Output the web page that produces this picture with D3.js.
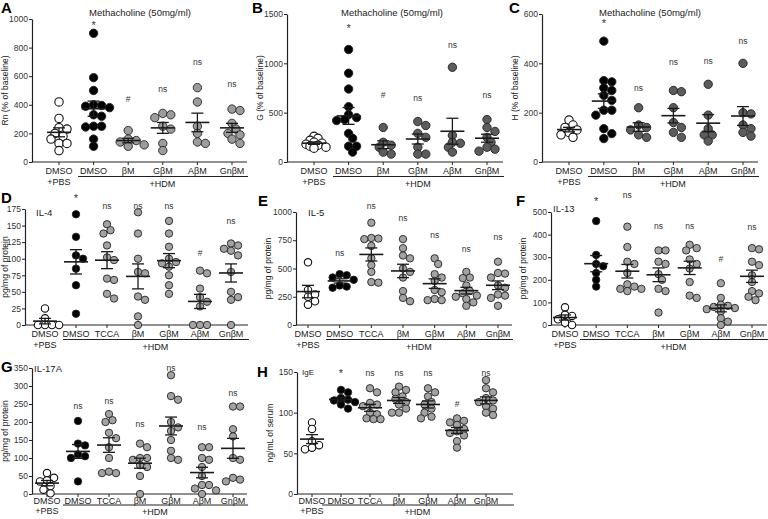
<!DOCTYPE html>
<html><head><meta charset="utf-8">
<script src="https://cdn.jsdelivr.net/npm/d3@7"></script>
<style>
html,body{margin:0;padding:0;background:#fff;}
svg{font-family:"Liberation Sans",Arial,Helvetica,sans-serif;}
</style></head>
<body><svg id="c" width="768" height="519"></svg>
<script>
// ---------- DATA ----------
const catsMch = ["DMSO","DMSO","βM","GβM","AβM","GnβM"];
const catsCyt = ["DMSO","DMSO","TCCA","βM","GβM","AβM","GnβM"];
const titleMch = "Methacholine (50mg/ml)";

const rnTicks = [0,200,400,600,800,1000];
const rnValues = [
  [420,305,240,230,200,180,160,130,130,80],
  [900,590,500,400,395,390,380,330,320,250,250,245,160,110],
  [220,160,150,140,120,110],
  [340,330,310,250,230,130,80],
  [520,420,250,200,140,130],
  [370,360,270,230,200,190,160,130]
];
const rnSig = ["","*","#","ns","ns","ns"];
const rnSigAt = [null,975,437,507,690,537];

const gTicks = [0,500,1000,1500];
const gValues = [
  [260,240,220,200,190,180,170,160,150,140],
  [1140,900,740,560,480,450,430,420,290,240,160,160,100],
  [350,200,170,150,100,80],
  [410,370,290,250,150,80,80],
  [960,270,200,190,150,100],
  [430,350,310,250,200,150,130,110]
];
const gSig = ["","*","#","ns","ns","ns"];
const gSigAt = [null,1388,667,643,1178,670];

const hTicks = [0,200,400,600];
const hValues = [
  [170,150,140,130,120,110,100],
  [490,330,325,300,290,270,250,210,210,190,135,115,95],
  [220,150,140,130,110,100],
  [290,285,220,160,140,120,100],
  [315,190,135,110,110,85],
  [400,200,195,150,135,120,105]
];
const hSig = ["","*","ns","ns","ns","ns"];
const hSigAt = [null,573,298,400,406,485];

const il4Ticks = [0,25,50,75,100,125,150,175];
const il4Values = [
  [25,10,0,0,0,0],
  [167,133,105,100,85,60,17],
  [152,143,138,120,102,98,70,68,47,40],
  [170,138,100,80,78,43,38,13,0],
  [157,138,118,100,95,93,88,75,60,47],
  [82,78,55,42,35,28,0,0,0],
  [123,120,115,112,105,80,50,42,38,0]
];
const il4Sig = ["","*","ns","ns","ns","#","ns"];
const il4SigAt = [null,195,178,178,178,108,155];

const il5Ticks = [0,250,500,750,1000];
const il5Values = [
  [555,310,270,250,210,180],
  [450,440,420,400,350,340,330],
  [905,770,765,760,700,590,530,470,380,375],
  [760,680,615,590,500,470,420,300,240,210],
  [590,540,450,420,390,310,290,230,220,220],
  [470,420,415,350,300,280,260,250,230,200,170],
  [560,460,455,420,350,330,270,260,240,170]
];
const il5Sig = ["","ns","ns","ns","ns","ns","ns"];
const il5SigAt = [null,627,1041,940,793,666,769];

const il13Ticks = [0,100,200,300,400,500];
const il13Values = [
  [78,45,40,25,10,0],
  [460,310,270,260,230,200,170],
  [435,345,280,270,230,180,170,160,160,150],
  [330,330,280,270,225,200,160,150,55],
  [355,340,330,290,270,250,190,130,120],
  [185,120,90,85,80,75,70,60,30,15,0],
  [340,335,280,265,220,190,150,140,125,110]
];
const il13Sig = ["","*","ns","ns","ns","#","ns"];
const il13SigAt = [null,558,573,432,432,288,429];

const il17Ticks = [0,50,100,150,200,250,300,350];
const il17Values = [
  [58,45,38,35,22,12,2],
  [203,140,135,110,105,100,35],
  [222,205,200,170,155,130,100,62,58,58],
  [140,130,100,100,95,80,75,50,0],
  [330,272,262,200,185,175,150,120,100,95],
  [130,130,100,95,75,50,25,25,15,10,0],
  [243,243,180,160,100,95,45,40,35]
];
const il17Sig = ["","ns","ns","ns","ns","ns","ns"];
const il17SigAt = [null,243,257,192,347,183,278];

const igeTicks = [0,50,100,150];
const igeValues = [
  [88,80,65,60,57,55],
  [128,125,118,116,115,113,110,105],
  [130,125,112,110,108,100,98,93,92,92],
  [132,128,125,120,117,113,110,105,100,100],
  [130,125,120,113,110,105,100,95,93],
  [93,90,88,85,80,77,75,72,65,57],
  [140,130,125,118,115,113,108,105,100,97]
];
const igeSig = ["","*","ns","ns","ns","#","ns"];
const igeSigAt = [null,152,148,148,148,110,148];

// ---------- PANELS (layout) ----------
const grayLight = "#a3a3a3", grayMid = "#9c9c9c", grayDark = "#5c5c5c";
const rowTop = {lab:12, under:14.5, pbs:23, hdm:25};
const rowBot = {lab:10, under:11, pbs:20, hdm:21};
const panels = [
 {letter:"A", lx:1, ly:13, vals:rnValues, cats:catsMch, ticks:rnTicks, ylab:"Rn (% of baseline)", title:titleMch, tx:140,
  sig:rnSig, sigAt:rnSigAt, gray:grayMid, ax:32, yT:19, yB:162, x0:59, x1:232, xE:247, h0:78, r:4.2, ov:[1.6,1.6], row:rowTop, ylx:-27},
 {letter:"B", lx:252, ly:13, vals:gValues, cats:catsMch, ticks:gTicks, ylab:"G (% of baseline)", title:titleMch, tx:392,
  sig:gSig, sigAt:gSigAt, gray:grayDark, ax:287, yT:14, yB:162, x0:314, x1:487, xE:503, h0:333, r:4.2, ov:[1.05,1.45], row:rowTop, ylx:-27},
 {letter:"C", lx:509, ly:13, vals:hValues, cats:catsMch, ticks:hTicks, ylab:"H (% of baseline)", title:titleMch, tx:650,
  sig:hSig, sigAt:hSigAt, gray:grayDark, ax:542, yT:14, yB:162, x0:569, x1:743, xE:758, h0:588, r:4.2, ov:[1.3,1.6], row:rowTop, ylx:-27},
 {letter:"D", lx:1, ly:203, vals:il4Values, cats:catsCyt, ticks:il4Ticks, ylab:"pg/mg of protein", sub:"IL-4", sx:36, sy:216,
  sig:il4Sig, sigAt:il4SigAt, gray:grayLight, ax:25, yT:209, yB:325, x0:45, x1:231, xE:248, h0:63, r:3.7, ov:[1.75,1.75], row:rowTop, ylx:-20},
 {letter:"E", lx:258, ly:206, vals:il5Values, cats:catsCyt, ticks:il5Ticks, ylab:"pg/mg of protein", sub:"IL-5", sx:308, sy:216,
  sig:il5Sig, sigAt:il5SigAt, gray:grayLight, ax:296, yT:212, yB:325, x0:308, x1:498, xE:512, h0:326, r:3.7, ov:[1.75,1.75], row:rowTop, ylx:-28},
 {letter:"F", lx:516, ly:206, vals:il13Values, cats:catsCyt, ticks:il13Ticks, ylab:"pg/mg of protein", sub:"IL-13", sx:553, sy:212,
  sig:il13Sig, sigAt:il13SigAt, gray:grayLight, ax:551, yT:212, yB:325, x0:565, x1:752, xE:767, h0:580, r:3.7, ov:[1.75,1.75], row:rowTop, ylx:-28},
 {letter:"G", lx:1, ly:372, vals:il17Values, cats:catsCyt, ticks:il17Ticks, ylab:"pg/mg of protein", sub:"IL-17A", sx:34, sy:372,
  sig:il17Sig, sigAt:il17SigAt, gray:grayLight, ax:32, yT:368, yB:494, x0:47, x1:233, xE:247, h0:63, r:3.7, ov:[1.75,1.75], row:rowBot, ylx:-27},
 {letter:"H", lx:257, ly:377, vals:igeValues, cats:catsCyt, ticks:igeTicks, ylab:"ng/mL of serum", sub:"IgE", sx:302, sy:375, subSize:8,
  sig:igeSig, sigAt:igeSigAt, gray:grayLight, ax:297, yT:372, yB:494, x0:312, x1:486, xE:513, h0:322, r:3.7, ov:[1.6,1.6], row:rowBot, ylx:-27}
];

const svg = d3.select("#c");
const ink = "#222";

function swarm(vals, y, r, ov){
  // deterministic beeswarm offsets
  const order = vals.map((v,i)=>({v,i})).sort((a,b)=>b.v-a.v);
  const placed = [];
  const out = new Array(vals.length);
  const step = r*0.95, minD = ov*r;
  for (const p of order){
    const py = y(p.v);
    let dx = 0;
    for (let k=0;k<40;k++){
      const cand = k===0?0:(k%2===1? step*Math.ceil(k/2) : -step*Math.ceil(k/2));
      const ok = placed.every(q => Math.hypot(q.x-cand, q.y-py) >= minD);
      if (ok){ dx = cand; break; }
    }
    placed.push({x:dx,y:py});
    out[p.i] = dx;
  }
  return out;
}

panels.forEach(P => {
  const g = svg.append("g");
  const yMax = d3.max(P.ticks);
  const y = d3.scaleLinear().domain([0,yMax]).range([P.yB,P.yT]);
  const x = d3.scalePoint().domain(d3.range(P.cats.length)).range([P.x0,P.x1]);

  // letter
  g.append("text").attr("x",P.lx).attr("y",P.ly).attr("font-size",15).attr("font-weight","bold")
   .attr("font-family","Liberation Sans, Arial, sans-serif").text(P.letter);
  if (P.title) g.append("text").attr("x",P.tx).attr("y",16).attr("text-anchor","middle").attr("font-size",9.5).attr("fill",ink).text(P.title);
  if (P.sub) g.append("text").attr("x",P.sx).attr("y",P.sy).attr("font-size",P.subSize||9.5).attr("fill",ink).text(P.sub);

  // y axis
  const yAx = g.append("g").attr("transform",`translate(${P.ax},0)`)
    .call(d3.axisLeft(y).tickValues(P.ticks).tickFormat(d3.format("d")).tickSize(3).tickPadding(1).tickSizeOuter(0));
  yAx.select(".domain").attr("stroke",ink).attr("stroke-width",1.2);
  yAx.selectAll(".tick line").attr("stroke",ink);
  yAx.selectAll("text").attr("font-size",8.5).attr("fill","#333").attr("font-family","Liberation Sans, Arial, sans-serif");

  // x axis line + ticks
  g.append("line").attr("x1",P.ax).attr("x2",P.xE).attr("y1",P.yB).attr("y2",P.yB).attr("stroke",ink).attr("stroke-width",1.2);
  g.selectAll(".xt").data(P.cats).enter().append("line")
    .attr("x1",(d,i)=>x(i)).attr("x2",(d,i)=>x(i)).attr("y1",P.yB).attr("y2",P.yB+3).attr("stroke",ink);
  g.selectAll(".xl").data(P.cats).enter().append("text")
    .attr("x",(d,i)=>x(i)).attr("y",P.yB+P.row.lab).attr("text-anchor","middle").attr("font-size",9).attr("fill",ink).text(d=>d);
  g.append("text").attr("x",x(0)).attr("y",P.yB+P.row.pbs).attr("text-anchor","middle").attr("font-size",9).attr("fill",ink).text("+PBS");
  g.append("line").attr("x1",P.h0).attr("x2",P.xE+1).attr("y1",P.yB+P.row.under).attr("y2",P.yB+P.row.under).attr("stroke",ink).attr("stroke-width",1);
  g.append("text").attr("x",(P.h0+P.xE)/2).attr("y",P.yB+P.row.hdm).attr("text-anchor","middle").attr("font-size",9).attr("fill",ink).text("+HDM");

  // y label
  g.append("text").attr("transform",`translate(${P.ax+P.ylx},${(P.yT+P.yB)/2}) rotate(-90)`)
   .attr("text-anchor","middle").attr("dy","0.35em").attr("font-size",8.5).attr("fill",ink).text(P.ylab);

  // points
  P.vals.forEach((vals,i)=>{
    const offs = swarm(vals,y,P.r,i===0?P.ov[0]:P.ov[1]);
    const fill = i===0?"#fff":(i===1?"#000":P.gray);
    g.selectAll(null).data(vals).enter().append("circle")
      .attr("cx",(d,j)=>x(i)+offs[j]).attr("cy",d=>y(d)).attr("r",P.r)
      .attr("fill",fill).attr("stroke",i===0?"#111":"#222").attr("stroke-width",i===0?1.1:0.9);
    const m = d3.mean(vals), s = d3.deviation(vals)/Math.sqrt(vals.length);
    const cx = x(i);
    const ln = (x1,x2,y1,y2,w)=>g.append("line").attr("x1",x1).attr("x2",x2).attr("y1",y1).attr("y2",y2).attr("stroke","#1a1a1a").attr("stroke-width",w);
    ln(cx-12,cx+12,y(m),y(m),1.6);
    ln(cx,cx,y(m+s),y(Math.max(0,m-s)),1.3);
    ln(cx-6,cx+6,y(m+s),y(m+s),1.3);
    ln(cx-6,cx+6,y(Math.max(0,m-s)),y(Math.max(0,m-s)),1.3);
  });

  // significance
  P.sig.forEach((t,i)=>{
    if(!t) return;
    g.append("text").attr("x",x(i)).attr("y",y(P.sigAt[i])).attr("dy",t==="*"?"0.6em":"0.25em")
     .attr("text-anchor","middle").attr("font-size",t==="*"?11:8.5).attr("fill","#333").text(t);
  });
});
</script></body></html>
